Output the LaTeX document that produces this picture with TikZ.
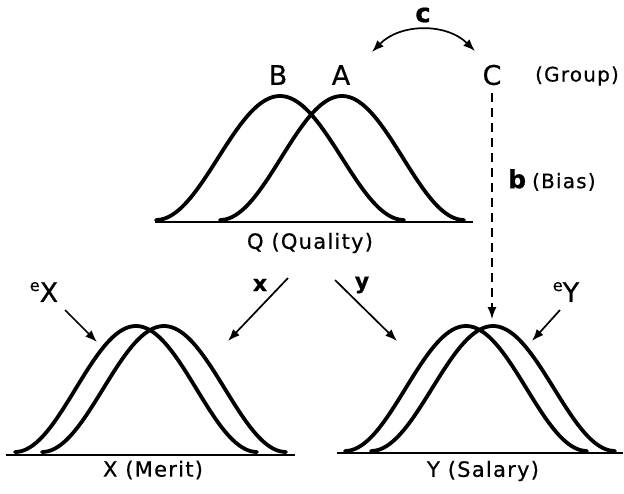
\documentclass[tikz,border=0pt]{standalone}
\usepackage{fontspec}
\setmainfont{DejaVu Sans}[LetterSpace=6,FakeBold=0.6]
\usetikzlibrary{arrows.meta}
\begin{document}
\begin{tikzpicture}[x=1pt,y=-1pt,
  bell/.style={line width=3.8pt,line cap=round},
  axis/.style={line width=1.8pt},
  arr/.style={line width=1.7pt,-{Latex[length=12pt,width=9pt]}},
  lbl/.style={inner sep=1pt,font=\fontsize{21}{24}\selectfont},
  big/.style={inner sep=1pt,font=\fontsize{27}{30}\selectfont},
  coef/.style={inner sep=1pt,font=\fontsize{22}{24}\selectfont\bfseries},
  small/.style={inner sep=1pt,font=\fontsize{20}{23}\selectfont}]
\useasboundingbox (0,0) rectangle (624,493);
% ---- top distributions
\draw[axis] (155,222) -- (473,222);
\draw[bell] plot[domain=-1:1,samples=80] ({280+124*\x},{220-62*(1+cos(180*\x))});
\draw[bell] plot[domain=-1:1,samples=80] ({342+122*\x},{220-62*(1+cos(180*\x))});
% ---- bottom left
\draw[axis] (6,455) -- (295,455);
\draw[bell] plot[domain=-1:1,samples=80] ({136+121*\x},{452-63*(1+cos(180*\x))});
\draw[bell] plot[domain=-1:1,samples=80] ({164+122*\x},{452-63*(1+cos(180*\x))});
% ---- bottom right
\draw[axis] (337,453) -- (623,453);
\draw[bell] plot[domain=-1:1,samples=80] ({466+121*\x},{451-62.5*(1+cos(180*\x))});
\draw[bell] plot[domain=-1:1,samples=80] ({493+122*\x},{451-62.5*(1+cos(180*\x))});
% ---- labels
\node[big] (B) at (278,75) {B};
\node[big] (A) at (341,75) {A};
\node[big] (C) at (492,75) {C};
\node[small] (grp) at (577,76) {(Group)};
\node[inner sep=1pt,font=\fontsize{26}{28}\selectfont\bfseries] (c) at (423,15) {c};
\node[inner sep=1pt,anchor=west] (bias) at (507,180) {{\fontsize{25}{28}\selectfont\bfseries b}\hspace{6pt}{\fontsize{20}{23}\selectfont(Bias)}};
\node[lbl] (Q) at (310,243) {Q (Quality)};
\node[lbl] (X) at (153,470) {X (Merit)};
\node[lbl] (Y) at (483,471) {Y (Salary)};
\node[coef] (xl) at (260,285) {x};
\node[coef] (yl) at (362,285) {y};
\node[inner sep=1pt] (eX) at (44,292) {\raisebox{11pt}{\fontsize{16}{18}\selectfont e}\fontsize{27}{30}\selectfont X};
\node[inner sep=1pt] (eY) at (566,292) {\raisebox{11pt}{\fontsize{16}{18}\selectfont e}\fontsize{27}{30}\selectfont Y};
% ---- connectors
\coordinate (cl) at (372,52);
\coordinate (cr) at (475,51);
\draw[line width=1.7pt,{Latex[length=12pt,width=9pt]}-{Latex[length=12pt,width=9pt]}] (cl) to[bend left=45] (cr);
\coordinate (btip) at (492,319);
\draw[line width=1.4pt,dash pattern=on 9pt off 6pt,-{Latex[length=12pt,width=9pt]}] (C.south) ++(0,7) -- (btip);
\coordinate (xs) at (288,278); \coordinate (xe) at (228,341);
\coordinate (ys) at (335,280); \coordinate (ye) at (397,341);
\coordinate (exs) at (65,310); \coordinate (exe) at (97,342);
\coordinate (eys) at (560,310); \coordinate (eye) at (532,341);
\draw[arr] (xs) -- (xe);
\draw[arr] (ys) -- (ye);
\draw[arr] (exs) -- (exe);
\draw[arr] (eys) -- (eye);
\end{tikzpicture}
\end{document}
